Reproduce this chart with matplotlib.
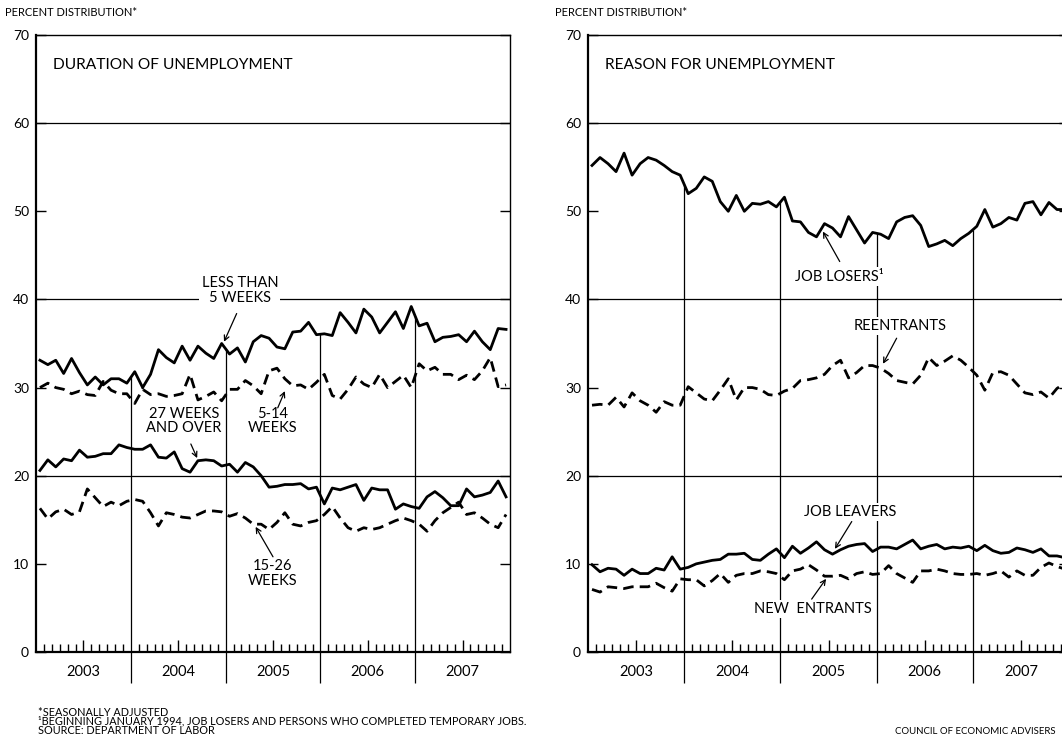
import matplotlib.pyplot as plt
import numpy as np

plt.rcParams['font.family'] = ['Lato', 'DejaVu Sans']

# monthly data, Jan 2003 .. Dec 2007 (percent distribution, seasonally adjusted)
years = ['2003', '2004', '2005', '2006', '2007']

less_5wk = [33.1, 32.6, 33.1, 31.6, 33.3, 31.7, 30.3, 31.2, 30.3, 31.0, 31.0, 30.5,
            31.8, 30.0, 31.5, 34.3, 33.4, 32.8, 34.7, 33.1, 34.7, 33.9, 33.3, 35.0,
            33.8, 34.5, 32.9, 35.2, 35.9, 35.6, 34.6, 34.4, 36.3, 36.4, 37.4, 36.0,
            36.1, 35.9, 38.5, 37.4, 36.2, 38.9, 38.0, 36.2, 37.4, 38.6, 36.7, 39.2,
            37.0, 37.3, 35.2, 35.7, 35.8, 36.0, 35.2, 36.4, 35.2, 34.3, 36.7, 36.6]
wk_5_14 = [30.0, 30.5, 30.0, 29.8, 29.3, 29.6, 29.2, 29.1, 30.7, 29.7, 29.3, 29.3,
           28.2, 29.8, 29.2, 29.3, 29.0, 29.1, 29.3, 31.5, 28.6, 29.0, 29.5, 28.5,
           29.8, 29.8, 30.8, 30.2, 29.3, 31.9, 32.2, 31.0, 30.2, 30.3, 29.8, 30.6,
           31.5, 29.1, 28.7, 29.8, 31.2, 30.4, 30.0, 31.5, 30.0, 30.7, 31.4, 30.0,
           32.7, 31.9, 32.3, 31.5, 31.5, 30.9, 31.4, 30.9, 31.9, 33.4, 30.1, 30.3]
wk_27_over = [20.6, 21.8, 21.0, 21.9, 21.7, 22.9, 22.1, 22.2, 22.5, 22.5, 23.5, 23.2,
              23.0, 23.0, 23.5, 22.1, 22.0, 22.7, 20.8, 20.4, 21.7, 21.8, 21.7, 21.1,
              21.3, 20.4, 21.5, 21.0, 20.0, 18.7, 18.8, 19.0, 19.0, 19.1, 18.5, 18.7,
              16.8, 18.6, 18.4, 18.7, 19.0, 17.2, 18.6, 18.4, 18.4, 16.2, 16.8, 16.5,
              16.3, 17.6, 18.2, 17.5, 16.6, 16.6, 18.5, 17.6, 17.8, 18.1, 19.4, 17.6]
wk_15_26 = [16.3, 15.1, 15.9, 16.2, 15.6, 15.9, 18.5, 17.5, 16.5, 17.0, 16.6, 17.1,
            17.3, 17.1, 15.8, 14.3, 15.8, 15.6, 15.3, 15.2, 15.6, 16.0, 16.0, 15.9,
            15.4, 15.7, 15.2, 14.5, 14.5, 13.9, 14.7, 15.8, 14.5, 14.3, 14.7, 14.9,
            15.6, 16.5, 15.2, 14.1, 13.7, 14.1, 13.9, 14.1, 14.5, 14.9, 15.2, 14.9,
            14.5, 13.7, 14.9, 15.8, 16.4, 17.0, 15.6, 15.8, 15.2, 14.5, 14.1, 15.6]

job_losers = [55.2, 56.1, 55.4, 54.5, 56.6, 54.1, 55.4, 56.1, 55.8, 55.2, 54.5, 54.1,
              52.0, 52.6, 53.9, 53.4, 51.1, 50.0, 51.8, 50.0, 50.9, 50.8, 51.1, 50.5,
              51.6, 48.9, 48.8, 47.6, 47.1, 48.6, 48.1, 47.1, 49.4, 47.9, 46.4, 47.6,
              47.4, 46.9, 48.8, 49.3, 49.5, 48.4, 46.0, 46.3, 46.7, 46.1, 46.9, 47.5,
              48.3, 50.2, 48.2, 48.6, 49.3, 49.0, 50.9, 51.1, 49.6, 51.0, 50.2, 50.2]
reentrants = [28.0, 28.1, 28.0, 28.9, 27.8, 29.4, 28.5, 28.0, 27.2, 28.4, 28.0, 28.0,
              30.1, 29.4, 28.7, 28.5, 29.7, 31.0, 28.6, 30.0, 30.0, 29.8, 29.2, 29.1,
              29.6, 29.9, 30.8, 30.9, 31.1, 31.5, 32.5, 33.1, 31.1, 31.7, 32.5, 32.5,
              32.2, 31.6, 30.8, 30.6, 30.4, 31.4, 33.4, 32.5, 33.0, 33.6, 33.1, 32.3,
              31.4, 29.7, 31.7, 31.8, 31.4, 30.4, 29.4, 29.2, 29.5, 28.8, 29.9, 30.5]
job_leavers = [9.9, 9.1, 9.5, 9.4, 8.7, 9.4, 8.9, 8.9, 9.5, 9.3, 10.8, 9.4,
               9.6, 10.0, 10.2, 10.4, 10.5, 11.1, 11.1, 11.2, 10.5, 10.4, 11.1, 11.7,
               10.7, 12.0, 11.2, 11.8, 12.5, 11.6, 11.1, 11.6, 12.0, 12.2, 12.3, 11.4,
               11.9, 11.9, 11.7, 12.2, 12.7, 11.7, 12.0, 12.2, 11.7, 11.9, 11.8, 12.0,
               11.5, 12.1, 11.5, 11.2, 11.3, 11.8, 11.6, 11.3, 11.7, 10.9, 10.9, 10.7]
new_entrants = [7.1, 6.8, 7.4, 7.3, 7.2, 7.4, 7.4, 7.4, 7.8, 7.3, 6.9, 8.3,
                8.2, 8.2, 7.5, 8.1, 8.9, 7.9, 8.7, 8.9, 8.9, 9.2, 9.1, 8.9,
                8.2, 9.2, 9.4, 9.9, 9.3, 8.6, 8.6, 8.7, 8.3, 8.9, 9.1, 8.8,
                8.9, 9.8, 8.9, 8.4, 7.9, 9.2, 9.2, 9.4, 9.2, 8.9, 8.8, 8.8,
                8.9, 8.7, 8.9, 9.2, 8.5, 9.2, 8.7, 8.7, 9.6, 10.1, 9.7, 9.4]

footnotes = ['*SEASONALLY ADJUSTED',
             '\u00b9BEGINNING JANUARY 1994, JOB LOSERS AND PERSONS WHO COMPLETED TEMPORARY JOBS.',
             'SOURCE: DEPARTMENT OF LABOR']

x = np.arange(60) + 0.5
DASH = (0, (3.8, 2.2))
LW = 2.0

fig = plt.figure(figsize=(10.62, 7.38), dpi=100)
ax1 = fig.add_axes([36 / 1062, 86 / 738, 474 / 1062, 617 / 738])
ax2 = fig.add_axes([588 / 1062, 86 / 738, 481 / 1062, 617 / 738])


def setup(ax, title, top):
    ax.set_xlim(0, 60)
    ax.set_ylim(0, 70)
    for s in ['left', 'bottom']:
        ax.spines[s].set_linewidth(1.6)
    for s in ['top', 'right']:
        ax.spines[s].set_linewidth(1.0)
    ax.set_yticks(range(0, 71, 10))
    ax.tick_params(axis='y', direction='in', length=7, width=1.0, left=True,
                   right=True, labelsize=10, pad=5)
    ax.set_xticks([6, 18, 30, 42, 54])
    ax.set_xticklabels(years)
    mids = [m for m in range(1, 60) if m % 12 not in (0, 6)]
    ax.set_xticks(mids, minor=True)
    ax.tick_params(axis='x', which='major', direction='in', length=9, width=1.0,
                   labelsize=10.5, pad=9, top=False)
    ax.tick_params(axis='x', which='minor', direction='in', length=5.5, width=1.0,
                   top=False)
    for g in (20, 40, 60):
        ax.axhline(g, color='black', lw=0.9, zorder=1)
    # year dividers: from the axis up to the top series, and short marks below
    tops = np.array(top)
    for b in (12, 24, 36, 48):
        h = (tops[b - 1] + tops[b]) / 2
        ax.vlines(b, 0, h, color='black', lw=0.9, zorder=1)
        ax.vlines(b, -0.05, 0, color='black', lw=0.9,
                  transform=ax.get_xaxis_transform(), clip_on=False)
    ax.text(0.035, 0.962, title, transform=ax.transAxes, fontsize=11.2,
            ha='left', va='top')


def label(ax, s, xy, start, tip):
    ax.text(xy[0], xy[1], s, ha='center', va='center', fontsize=10.5,
            linespacing=1.05, zorder=4,
            bbox=dict(facecolor='white', edgecolor='none', pad=1.5))
    ax.annotate('', xy=tip, xytext=start, zorder=5,
                arrowprops=dict(arrowstyle='->', lw=0.9, color='black',
                                shrinkA=0, shrinkB=0, mutation_scale=9))


# left panel
setup(ax1, 'DURATION OF UNEMPLOYMENT', less_5wk)
ax1.plot(x, less_5wk, color='black', lw=LW, zorder=3)
ax1.plot(x, wk_5_14, color='black', lw=LW, ls=DASH, zorder=3)
ax1.plot(x, wk_27_over, color='black', lw=LW, zorder=3)
ax1.plot(x, wk_15_26, color='black', lw=LW, ls=DASH, zorder=3)
label(ax1, 'LESS THAN\n5 WEEKS', (25.8, 41.0), (25.4, 38.4), (23.8, 35.2))
label(ax1, '27 WEEKS\nAND OVER', (18.7, 26.2), (19.6, 23.6), (20.4, 22.0))
label(ax1, '5-14\nWEEKS', (29.9, 26.2), (30.6, 27.7), (31.5, 29.6))
label(ax1, '15-26\nWEEKS', (30.0, 8.9), (30.0, 10.8), (27.8, 14.2))

# right panel
setup(ax2, 'REASON FOR UNEMPLOYMENT', job_losers)
ax2.plot(x, job_losers, color='black', lw=LW, zorder=3)
ax2.plot(x, reentrants, color='black', lw=LW, ls=DASH, zorder=3)
ax2.plot(x, job_leavers, color='black', lw=LW, zorder=3)
ax2.plot(x, new_entrants, color='black', lw=LW, ls=DASH, zorder=3)
label(ax2, 'JOB LOSERS\u00b9', (31.4, 42.6), (31.4, 44.3), (29.3, 47.7))
label(ax2, 'REENTRANTS', (38.9, 37.0), (38.5, 35.6), (36.8, 32.7))
label(ax2, 'JOB LEAVERS', (32.7, 15.9), (32.9, 14.8), (30.8, 11.7))
label(ax2, 'NEW  ENTRANTS', (28.1, 4.9), (27.9, 6.0), (29.7, 8.3))

fig.text(5 / 1062, 1 - 12 / 738, 'PERCENT DISTRIBUTION*', fontsize=8, va='center')
fig.text(555 / 1062, 1 - 12 / 738, 'PERCENT DISTRIBUTION*', fontsize=8, va='center')

for k, line in enumerate(footnotes):
    fig.text(38 / 1062, 1 - (712 + 9 * k) / 738, line, fontsize=7.8, va='center')
fig.text(895 / 1062, 1 - 731 / 738, 'COUNCIL OF ECONOMIC ADVISERS', fontsize=6.9,
         va='center')

fig.savefig('out.png', dpi=100)
